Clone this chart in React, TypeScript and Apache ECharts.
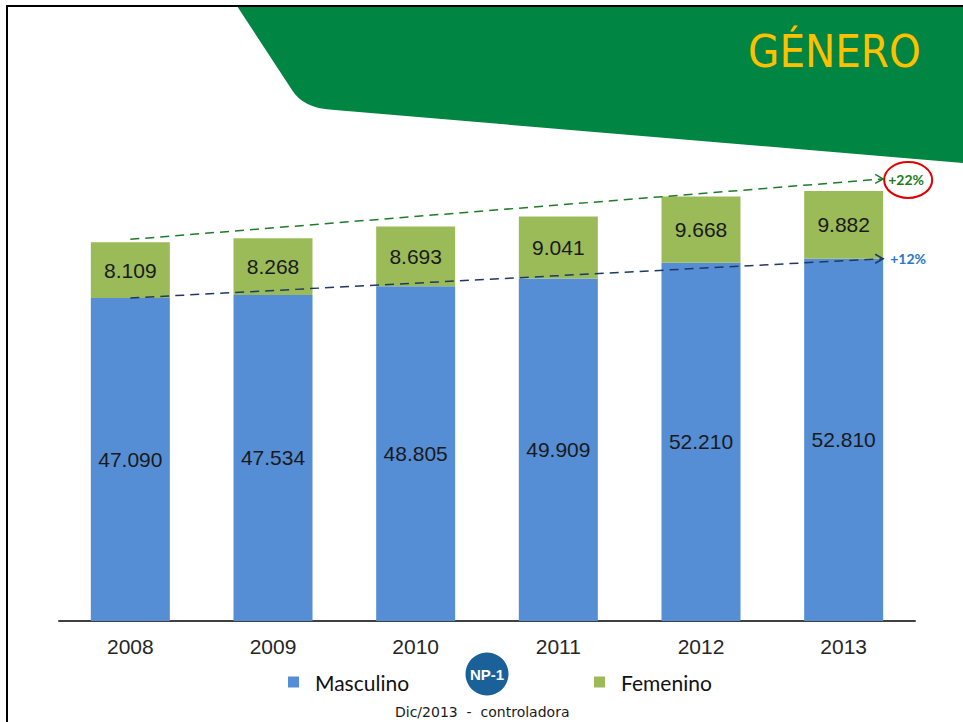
import React, { useEffect, useRef } from "react";
import * as echarts from "echarts";

const years = ["2008", "2009", "2010", "2011", "2012", "2013"];
const masculino = [47090, 47534, 48805, 49909, 52210, 52810];
const femenino = [8109, 8268, 8693, 9041, 9668, 9882];
const seriesNames = ["Masculino", "Femenino"];
const growthLabels = ["+22%", "+12%"];
const titleText = "GÉNERO";
const footerText = "Dic/2013  -  controladora";
const logoText = "NP-1";

const bannerPath = "M237,6 L292,90 Q303,108 332,109.8 L963,163 L963,6 Z";
echarts.graphic.registerShape("banner", echarts.graphic.extendPath(bannerPath, {}));

const fmt = (v: number) => String(v).replace(/\B(?=(\d{3})+(?!\d))/g, ".");

const BLUE = "#558ED5";
const GREEN = "#9BBB59";
const BAR_W = 79;

export default function App() {
  const ref = useRef<HTMLDivElement>(null);
  useEffect(() => {
    if (!ref.current) return;
    const chart = echarts.init(ref.current, null, { renderer: "svg" });
    const labelStyle = {
      show: true,
      position: "inside",
      color: "#1a1a1a",
      fontSize: 21,
      fontFamily: "'Liberation Sans', Arial, sans-serif",
      formatter: (p: any) => fmt(p.value),
    };
    const legendText = {
      fontFamily: "Lato, 'Open Sans', sans-serif",
      fontSize: 21,
      color: "#111",
      lineHeight: 22,
      padding: [0, 0, 0, 11],
    };
    chart.setOption({
      animation: false,
      backgroundColor: "#ffffff",
      grid: { left: 59, right: 48, top: 140.8, bottom: 101 },
      legend: [
        {
          data: [seriesNames[0]],
          left: 288,
          top: 671,
          padding: 0,
          itemWidth: 11,
          itemHeight: 11,
          icon: "rect",
          textStyle: legendText,
        },
        {
          data: [seriesNames[1]],
          left: 594,
          top: 671,
          padding: 0,
          itemWidth: 11,
          itemHeight: 11,
          icon: "rect",
          textStyle: legendText,
        },
      ],
      xAxis: {
        type: "category",
        data: years,
        axisTick: { show: false },
        axisLine: { lineStyle: { color: "#404040", width: 2 } },
        axisLabel: {
          color: "#262626",
          fontSize: 21,
          fontFamily: "'Liberation Sans', Arial, sans-serif",
          margin: 15,
        },
      },
      yAxis: {
        type: "value",
        min: 0,
        max: 70000,
        show: false,
        splitLine: { show: false },
      },
      series: [
        {
          name: seriesNames[0],
          type: "bar",
          stack: "total",
          barWidth: BAR_W,
          data: masculino,
          itemStyle: { color: BLUE },
          label: labelStyle,
        },
        {
          name: seriesNames[1],
          type: "bar",
          stack: "total",
          barWidth: BAR_W,
          data: femenino,
          itemStyle: { color: GREEN },
          label: labelStyle,
        },
      ],
    });

    const totals = masculino.map((m, i) => m + femenino[i]);
    const px = (i: number, v: number) =>
      chart.convertToPixel({ gridIndex: 0 }, [i, v]) as number[];
    const last = years.length - 1;
    const g0 = px(0, totals[0]);
    const g1 = px(last, totals[last]);
    const b0 = px(0, masculino[0]);
    const b1 = px(last, masculino[last]);
    const gStart = [g0[0], g0[1] - 3];
    const gEnd = [g1[0] + BAR_W / 2, g1[1] - 12];
    const bStart = [b0[0], b0[1]];
    const bEnd = [b1[0] + BAR_W / 2, b1[1]];
    const chevron = (e: number[]) => [
      [e[0] - 8, e[1] - 4.5],
      [e[0], e[1]],
      [e[0] - 8, e[1] + 4.5],
    ];

    chart.setOption({
      graphic: [
        { type: "banner", x: 0, y: 0, z: 0, style: { fill: "#008542" } },
        {
          type: "text",
          x: 748,
          y: 51,
          z: 5,
          style: {
            text: titleText,
            fill: "#FFC000",
            fontSize: 45,
            fontFamily: "'Liberation Sans Narrow', 'DejaVu Sans Condensed', sans-serif",
            verticalAlign: "middle",
          },
        },
        { type: "line", z: 10, shape: { x1: 6, y1: 6, x2: 963, y2: 6 }, style: { stroke: "#000", lineWidth: 2 } },
        { type: "line", z: 10, shape: { x1: 7, y1: 5, x2: 7, y2: 722 }, style: { stroke: "#000", lineWidth: 2 } },
        {
          type: "line",
          z: 20,
          shape: { x1: gStart[0], y1: gStart[1], x2: gEnd[0], y2: gEnd[1] },
          style: { stroke: "#1E7B2A", lineWidth: 1.5, lineDash: [9, 6] },
        },
        {
          type: "polyline",
          z: 20,
          shape: { points: chevron(gEnd) },
          style: { stroke: "#1E7B2A", lineWidth: 1.5, fill: null },
        },
        {
          type: "line",
          z: 20,
          shape: { x1: bStart[0], y1: bStart[1], x2: bEnd[0], y2: bEnd[1] },
          style: { stroke: "#1F3864", lineWidth: 1.5, lineDash: [9, 6] },
        },
        {
          type: "polyline",
          z: 20,
          shape: { points: chevron(bEnd) },
          style: { stroke: "#1F3864", lineWidth: 1.5, fill: null },
        },
        {
          type: "ellipse",
          z: 20,
          shape: { cx: gEnd[0] + 25, cy: gEnd[1] + 1, rx: 24, ry: 18 },
          style: { stroke: "#E00000", lineWidth: 2, fill: null },
        },
        {
          type: "text",
          z: 21,
          x: gEnd[0] + 5,
          y: gEnd[1] + 1,
          style: {
            text: growthLabels[0],
            fill: "#1E7B1E",
            fontSize: 14,
            fontWeight: "bold",
            fontFamily: "Lato, sans-serif",
            verticalAlign: "middle",
          },
        },
        {
          type: "text",
          z: 21,
          x: bEnd[0] + 7,
          y: bEnd[1],
          style: {
            text: growthLabels[1],
            fill: "#2878C8",
            fontSize: 14,
            fontWeight: "bold",
            fontFamily: "Lato, sans-serif",
            verticalAlign: "middle",
          },
        },
        {
          type: "circle",
          z: 20,
          shape: { cx: 487, cy: 674, r: 21.5 },
          style: { fill: "#1B6199" },
        },
        {
          type: "text",
          z: 21,
          x: 487,
          y: 674,
          style: {
            text: logoText,
            fill: "#ffffff",
            fontSize: 15,
            fontWeight: "bold",
            fontFamily: "'Liberation Sans', Arial, sans-serif",
            align: "center",
            verticalAlign: "middle",
          },
        },
        {
          type: "text",
          z: 21,
          x: 395,
          y: 712,
          style: {
            text: footerText,
            fill: "#1a1a1a",
            fontSize: 14,
            fontFamily: "'DejaVu Sans', sans-serif",
            verticalAlign: "middle",
          },
        },
      ],
    });
    return () => chart.dispose();
  }, []);
  return (
    <div
      ref={ref}
      style={{ position: "absolute", left: 0, top: 0, width: 963, height: 722 }}
    />
  );
}
